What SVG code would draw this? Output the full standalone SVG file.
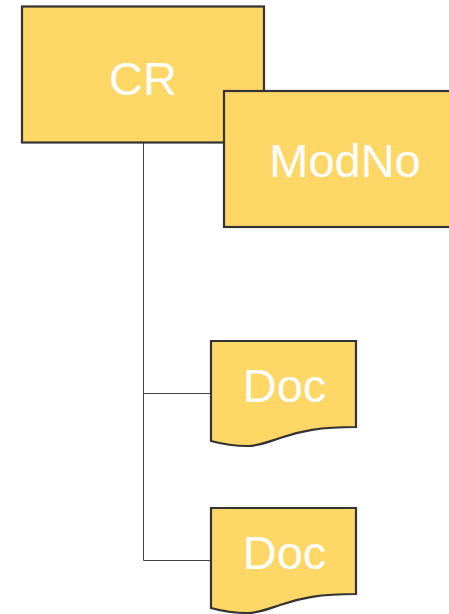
<svg xmlns="http://www.w3.org/2000/svg" width="449" height="614" viewBox="0 0 449 614">
<style>
.box{fill:#FED766;stroke:#333333;stroke-width:2.2}
.lbl{fill:#FFFFFF;font-family:"Liberation Sans",Arial,sans-serif;font-size:47px;text-anchor:middle}
.con{fill:none;stroke:#444444;stroke-width:1}
</style>
<rect width="449" height="614" fill="#FFFFFF"/>
<g id="connectors">
<path class="con" d="M143.5,142 V560.5 H211"/>
<path class="con" d="M143.5,393.5 H211"/>
</g>
<g id="node-cr">
<rect class="box" x="22" y="6.5" width="242" height="136"/>
<text class="lbl" x="143" y="95">CR</text>
</g>
<g id="node-modno">
<rect class="box" x="224" y="91" width="242" height="136"/>
<text class="lbl" x="345" y="177">ModNo</text>
</g>
<g id="node-doc1">
<path class="box" d="M211,341 H356 V427 C320,427 300,431 280,438 C265,443 258,446 248,446 C232,446 222,444 211,441 Z"/>
<text class="lbl" x="284.5" y="401.5">Doc</text>
</g>
<g id="node-doc2">
<path class="box" d="M211,508 H356 V594 C320,594 300,598 280,605 C265,610 258,613 248,613 C232,613 222,611 211,608 Z"/>
<text class="lbl" x="284.5" y="569">Doc</text>
</g>
</svg>
